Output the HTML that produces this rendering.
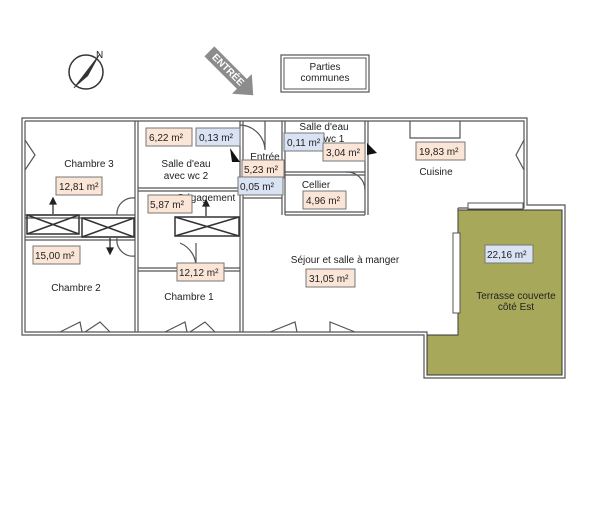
<!DOCTYPE html>
<html><head><meta charset="utf-8"><style>
html,body{margin:0;padding:0;background:#fff}
svg{display:block}
text{font-family:"Liberation Sans",sans-serif;font-size:10px;fill:#222}
.w{fill:none;stroke:#555;stroke-width:1.2}
.p{fill:#fbe5d6;stroke:#777;stroke-width:1}
.b{fill:#dae3f3;stroke:#777;stroke-width:1}
</style></head><body>
<svg width="600" height="522" viewBox="0 0 600 522">
<!-- compass -->
<g transform="translate(86,72)">
<circle r="17" fill="none" stroke="#333" stroke-width="1.5"/>
<path d="M-12,16 L14,-18 L2,4 Z" fill="#333"/>
<path d="M-12,16 L14,-18" stroke="#333"/>
<text x="10" y="-14" font-size="7">N</text>
</g>
<!-- ENTREE arrow -->
<g transform="translate(232,74) rotate(45)">
<path d="M-32,-7 L14,-7 L14,-14 L30,0 L14,14 L14,7 L-32,7 Z" fill="#8c8c8c"/>
<text x="-26" y="3" font-size="7" font-weight="bold" style="fill:#fff">ENTRÉE</text>
</g>
<!-- parties communes -->
<rect x="281" y="55" width="88" height="37" fill="#fff" stroke="#555" stroke-width="1.2"/>
<rect x="284" y="58" width="82" height="31" fill="none" stroke="#555"/>
<text x="325" y="70" text-anchor="middle">Parties</text>
<text x="325" y="81" text-anchor="middle">communes</text>
<!-- outer walls -->
<path d="M22,118 H527 V205 H565 V378 H424 V335 H22 Z" fill="#fff" stroke="#555" stroke-width="1.2"/>
<path d="M458,210 H562 V375 H427 V335 H458 Z" fill="#a8a85a" stroke="#333" stroke-width="1"/>
<path d="M25,121 H524 V208 H458 M25,121 V332 H427 V335" class="w"/>
<path d="M458,208 V335" class="w"/>
<rect x="468" y="203" width="55" height="6" fill="#fff" stroke="#555"/>
<rect x="453" y="233" width="7" height="80" fill="#fff" stroke="#555"/>
<!-- interior walls -->
<g class="w">
<path d="M135,121 V332 M138,121 V332"/>
<path d="M240,121 V332 M243,121 V332"/>
<path d="M25,215 H135 M25,218 H135"/>
<path d="M25,240 H135 M25,237 H135"/>
<path d="M138,188 H240 M138,191 H240"/>
<path d="M138,268 H240 M138,271 H240"/>
<path d="M282,121 V215 M285,121 V215"/>
<path d="M365,121 V215 M368,121 V215"/>
<path d="M285,172 H365 M285,175 H365"/>
<path d="M285,212 H365 M285,215 H365"/>
<path d="M243,198 H282"/>
</g>
<!-- wardrobes -->
<g stroke="#333" stroke-width="1.5" fill="none">
<rect x="27" y="215" width="52" height="19"/><path d="M27,215 L79,234 M79,215 L27,234"/>
<rect x="82" y="218" width="52" height="19"/><path d="M82,218 L134,237 M134,218 L82,237"/>
<rect x="175" y="217" width="64" height="19"/><path d="M175,217 L239,236 M239,217 L175,236"/>
</g>
<g stroke="#222" stroke-width="1.2">
<path d="M53,214 V200 M110,238 V252 M206,216 V202"/>
<path d="M50,204 L53,198 L56,204 Z M107,248 L110,254 L113,248 Z M203,206 L206,200 L209,206 Z" fill="#222"/>
</g>
<!-- doors -->
<g class="w">
<path d="M117,215 A16,16 0 0 1 135,198"/>
<path d="M117,238 A16,16 0 0 0 135,256"/>
<path d="M265,121 V150 A26,26 0 0 0 240,125"/>
<path d="M346,172 A18,18 0 0 1 365,190"/>
<path d="M180,243 A26,26 0 0 1 196,268 V243"/>
<path d="M25,140 L35,155 L25,170 M410,121 V138 H460 V121 M524,140 L516,155 L524,170"/>
<path d="M60,332 L80,322 L82,332 M85,332 L100,322 L110,332"/>
<path d="M165,332 L185,322 L187,332 M190,332 L205,322 L215,332"/>
<path d="M270,332 L295,322 L297,332 M330,332 L330,322 L355,332"/>
</g>
<path d="M230,148 L240,162 L232,162 Z M367,143 L377,153 L367,155 Z" fill="#111"/>
<!-- labels -->
<text x="89" y="167" text-anchor="middle">Chambre 3</text>
<text x="186" y="167" text-anchor="middle">Salle d'eau</text>
<text x="186" y="179" text-anchor="middle">avec wc 2</text>
<text x="178" y="201">Dégagement</text>
<text x="265" y="160" text-anchor="middle">Entrée</text>
<text x="324" y="130" text-anchor="middle">Salle d'eau</text>
<text x="334" y="142" text-anchor="middle">wc 1</text>
<text x="316" y="188" text-anchor="middle">Cellier</text>
<text x="436" y="175" text-anchor="middle">Cuisine</text>
<text x="76" y="291" text-anchor="middle">Chambre 2</text>
<text x="189" y="300" text-anchor="middle">Chambre 1</text>
<text x="345" y="263" text-anchor="middle">Séjour et salle à manger</text>
<text x="516" y="299" text-anchor="middle">Terrasse couverte</text>
<text x="516" y="310" text-anchor="middle">côté Est</text>
<g>
<rect class="p" x="146" y="128" width="46" height="18"/><text x="149" y="141">6,22 m²</text>
<rect class="b" x="196" y="128" width="44" height="18"/><text x="199" y="141">0,13 m²</text>
<rect class="p" x="56" y="177" width="46" height="18"/><text x="59" y="190">12,81 m²</text>
<rect class="p" x="148" y="195" width="44" height="18"/><text x="150" y="208">5,87 m²</text>
<rect class="p" x="242" y="160" width="42" height="18"/><text x="244" y="173">5,23 m²</text>
<rect class="b" x="238" y="177" width="45" height="18"/><text x="240" y="190">0,05 m²</text>
<rect class="b" x="284" y="133" width="40" height="18"/><text x="287" y="146">0,11 m²</text>
<rect class="p" x="323" y="143" width="42" height="18"/><text x="326" y="156">3,04 m²</text>
<rect class="p" x="303" y="191" width="43" height="18"/><text x="306" y="204">4,96 m²</text>
<rect class="p" x="416" y="142" width="49" height="18"/><text x="419" y="155">19,83 m²</text>
<rect class="p" x="33" y="246" width="47" height="18"/><text x="35" y="259">15,00 m²</text>
<rect class="p" x="177" y="263" width="47" height="18"/><text x="179" y="276">12,12 m²</text>
<rect class="p" x="306" y="269" width="49" height="18"/><text x="309" y="282">31,05 m²</text>
<rect class="b" x="485" y="245" width="48" height="18"/><text x="487" y="258">22,16 m²</text>
</g>
</svg>
</body></html>
